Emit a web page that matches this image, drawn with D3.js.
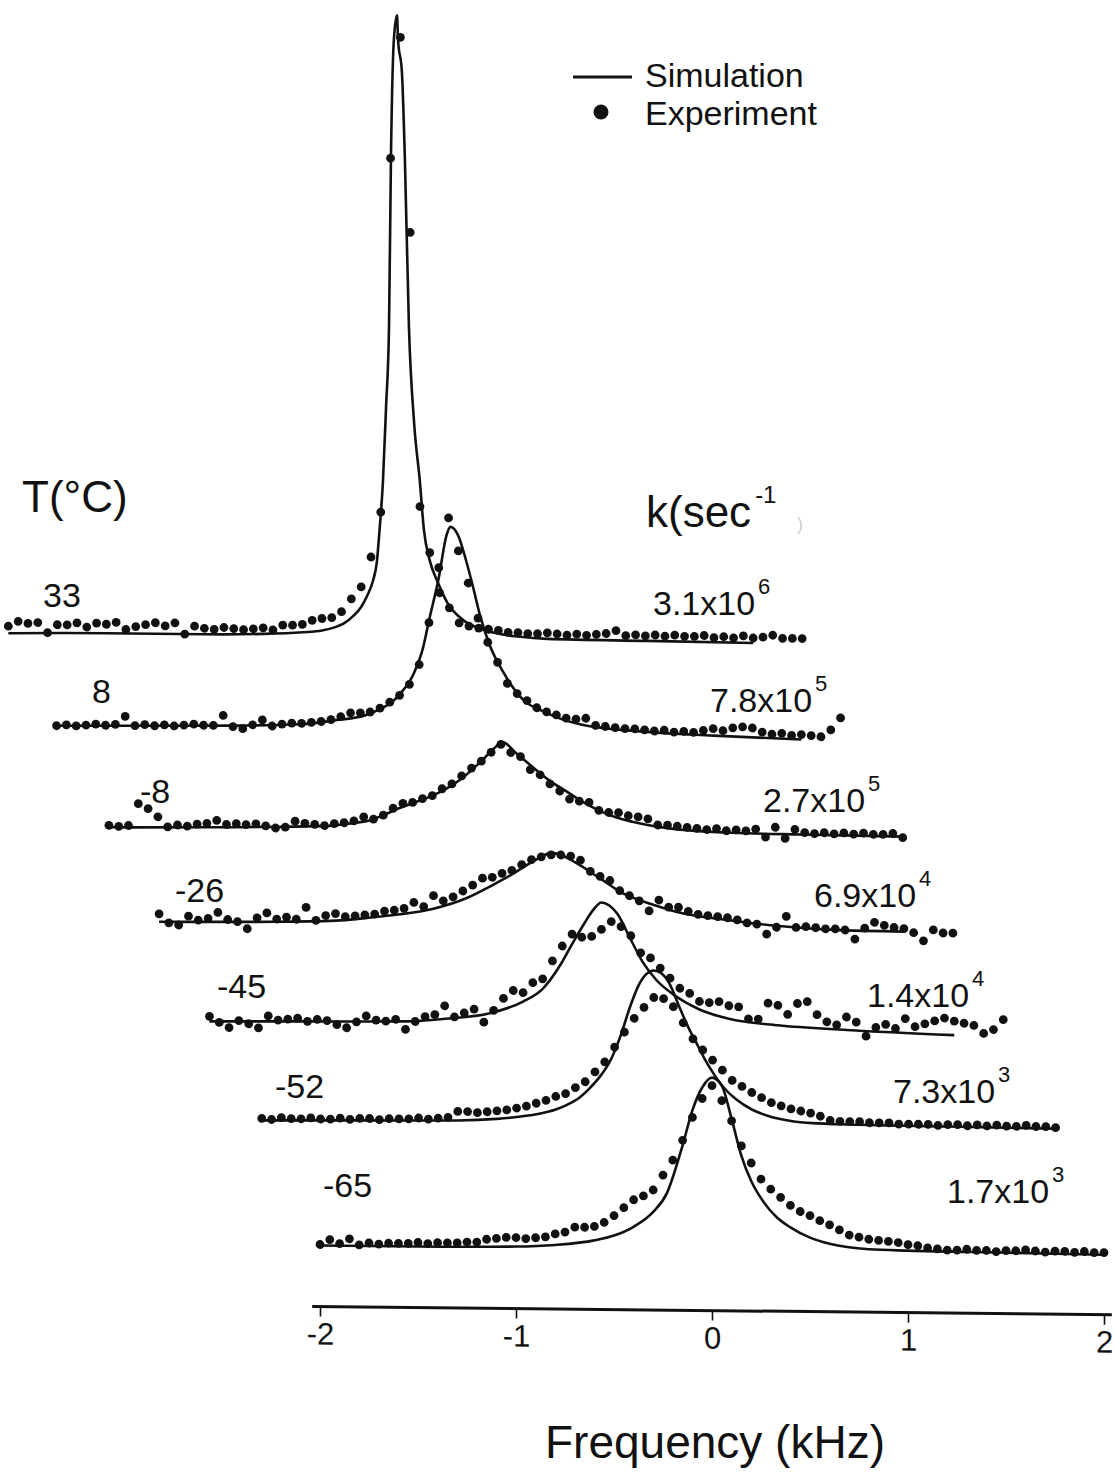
<!DOCTYPE html>
<html>
<head>
<meta charset="utf-8">
<script src="https://cdn.jsdelivr.net/npm/d3@7"></script>
<style>
  body { margin: 0; background: #fff; }
  svg { display: block; }
  text { font-family: "Liberation Sans", Arial, Helvetica, sans-serif; fill: #111; }
</style>
</head>
<body>
<svg id="chart" width="1114" height="1480"></svg>
<script>
// ---- Spectra, listed from the coldest (bottom) trace to the warmest (top) ----
const temperatures  = ["-65", "-52", "-45", "-26", "-8", "8", "33"];
const rateMantissas = ["1.7", "7.3", "1.4", "6.9", "2.7", "7.8", "3.1"];
const rateExponents = ["3", "3", "4", "4", "5", "5", "6"];
const freqTicks = [-2, -1, 0, 1, 2];

// Simulated lineshapes: [frequency (kHz), intensity]
const simM65 = [[-2.0,1],[-1.5,1],[-1.0,2],[-0.8,4],[-0.6,9],[-0.5,14],[-0.4,23],[-0.3,38],[-0.23,57],[-0.15,105],[-0.1,140],[-0.05,163],[0,173],[0.05,165],[0.1,132],[0.15,95],[0.2,70],[0.26,50],[0.33,34],[0.4,24],[0.5,14],[0.6,8],[0.8,3],[1.0,2],[1.5,1],[2.0,0]];
const simM52 = [[-2.0,0],[-1.5,1],[-1.0,2],[-0.8,4],[-0.7,6],[-0.6,9],[-0.5,14],[-0.44,19],[-0.38,26],[-0.33,35],[-0.28,46],[-0.22,64],[-0.17,88],[-0.12,118],[-0.08,138],[-0.04,150],[0,154],[0.04,151],[0.08,141],[0.13,118],[0.18,96],[0.22,81],[0.26,66],[0.3,53],[0.36,37],[0.42,26],[0.5,16],[0.58,10],[0.7,5],[0.81,3],[1.0,2],[1.5,1],[2.05,0]];
const simM45 = [[-2.0,2],[-1.5,3],[-1.0,4],[-0.8,7],[-0.57,13],[-0.4,25],[-0.3,38],[-0.21,62],[-0.15,83],[-0.09,103],[-0.04,118],[0,125],[0.04,122],[0.08,114],[0.15,88],[0.21,66],[0.28,48],[0.38,32],[0.5,19],[0.65,10],[0.9,4],[1.25,0],[1.8,-4]];
const simM26 = [[-2.0,2],[-1.5,3],[-1.1,5],[-0.9,9],[-0.77,12],[-0.6,18],[-0.43,29],[-0.3,42],[-0.2,53],[-0.12,63],[-0.05,71],[0,75],[0.05,73],[0.13,65],[0.25,50],[0.37,35],[0.51,25],[0.67,16],[0.8,12],[0.93,9],[1.18,4],[1.44,1],[1.8,0]];
const simM8  = [[-2.0,0],[-1.5,1],[-1.0,3],[-0.86,4],[-0.75,7],[-0.68,9],[-0.6,15],[-0.52,22],[-0.44,28],[-0.35,35],[-0.28,42],[-0.21,51],[-0.15,61],[-0.09,72],[-0.04,82],[0.01,89],[0.08,78],[0.16,65],[0.25,51],[0.34,40],[0.42,30],[0.51,21],[0.59,15],[0.67,11],[0.85,5],[1.18,1],[1.53,0],[2.05,-1]];
const simP8  = [[-2.0,3],[-1.5,4],[-1.1,5],[-0.76,7],[-0.59,11],[-0.42,17],[-0.35,23],[-0.29,30],[-0.25,38],[-0.18,58],[-0.13,85],[-0.1,112],[-0.05,155],[-0.01,198],[0.01,206],[0.05,197],[0.09,172],[0.13,142],[0.16,118],[0.21,88],[0.28,61],[0.36,38],[0.5,21],[0.67,10],[1.01,3],[1.35,0],[1.8,-3]];
const simP33 = [[-2.0,0],[-1.5,1],[-1.0,1],[-0.7,2],[-0.5,4],[-0.4,6],[-0.34,9],[-0.29,13],[-0.24,21],[-0.2,30],[-0.17,41],[-0.14,56],[-0.12,75],[-0.105,110],[-0.089,155],[-0.073,230],[-0.058,309],[-0.048,479],[-0.033,598],[-0.017,622],[-0.012,598],[0.008,565],[0.023,479],[0.044,309],[0.07,215],[0.1,155],[0.12,108],[0.15,77],[0.19,56],[0.24,35],[0.32,18],[0.4,10],[0.49,5],[0.6,2],[0.75,0],[1.26,-1],[1.8,-2]];

// Measured spectra: intensities sampled every 0.05 kHz starting at -2.00 kHz
const EXP_FREQ_START = -2.0;
const EXP_FREQ_STEP = 0.05;
const expM65 = [2,7,3,8,2,4,3,4,4,4, 5,4,5,5,5,6,6,9,10,11, 11,10,11,12,15,17,22,22,23,27, 34,42,50,54,60,75,90,110,133,152, 165,150,130,105,88,72,62,54,46,40, 36,31,27,22,17,15,13,12,11,10, 8,7,5,4,3,3,4,3,3,2, 3,3,4,3,2,3,3,2,3,2, 2];
const expM52 = [2,1,3,2,2,3,2,2,3,2, 3,3,2,3,3,3,4,3,4,5, 11,11,10,11,12,13,15,17,20,23, 27,30,36,42,52,62,77,92,106,117, 127,126,118,102,86,75,65,55,45,39, 33,28,23,20,17,15,13,10,6,5, 5,5,4,4,4,3,3,3,3,2, 3,3,2,3,2,3,2,2,3,2, 2,1];
const expM45 = [7,1,-4,3,0,-4,8,4,5,6, 3,5,4,0,-3,3,9,5,4,6, -4,4,9,11,20,9,13,17,4,16, 28,36,34,44,48,66,81,93,90,91, 98,106,101,92,75,70,60,50,40,35, 27,26,27,23,22,10,10,26,24,15, 26,28,15,8,5,13,8,-6,3,6, 2,12,4,7,10,13,10,8,6,-2, 2,12];
const expM26 = [10,1,-1,8,4,6,12,5,3,-4, 7,12,6,8,6,18,5,10,12,9, 10,11,12,15,16,18,24,20,31,26, 30,36,42,49,50,54,57,63,68,71, 73,73,72,68,57,52,48,38,33,28, 18,29,22,22,18,15,14,13,12,10, 7,6,-4,3,14,3,4,3,2,2, 1,-8,3,9,6,4,3,-1,-9,2, -1,-1];
const expM8  = [2,1,2,24,19,11,1,3,2,4, 5,8,4,5,4,5,3,1,2,8, 6,5,4,6,7,9,13,11,15,22, 27,28,32,35,42,47,55,63,70,79, 87,79,75,62,57,48,41,33,31,30, 22,20,20,17,16,14,8,8,7,6, 5,4,5,3,4,3,5,-3,7,-4, 5,2,1,2,1,2,1,2,1,1, 2,-2];
const expP8  = [3,4,3,4,5,4,5,13,4,5, 4,5,4,5,6,5,5,15,4,2, 6,11,5,7,8,8,9,10,12,15, 19,19,20,24,30,37,48,68,110,165, 215,182,150,115,91,71,50,40,33,26, 22,19,16,15,16,9,8,7,6,6, 5,4,5,3,4,3,5,7,5,8, 9,8,4,2,3,1,2,1,0,7, 19];
const expP33 = [7,12,10,11,1,9,9,11,7,11, 10,12,5,8,10,12,9,12,1,9, 7,6,8,7,6,7,8,6,11,11, 12,16,18,19,25,38,50,80,125,479, 600,405,131,85,45,30,15,12,10,9, 8,6,6,5,5,6,5,4,5,4, 5,6,9,4,5,4,5,4,5,4, 4,5,3,4,3,5,3,4,6,3, 3,3];

const simSeries = [simM65, simM52, simM45, simM26, simM8, simP8, simP33];
const expSeries = [expM65, expM52, expM45, expM26, expM8, expP8, expP33];

// ---- Layout ----
const W = 1114, H = 1480;
const stackShiftKHz = [0, 0.297, 0.564, 0.821, 1.077, 1.344, 1.59];   // waterfall step to the left
const stackLift     = [0, 125.5, 222, 321, 417, 515, 610];           // waterfall step upward (intensity units)
const tempLabelPos  = [[323,1197],[275,1098],[217,998],[175,902],[140,803],[92,703],[43,607]];
const rateLabelPos  = [[947,1203],[893,1103],[867,1007],[814,907],[763,812],[710,712],[653,615]];
const tiltDeg = 0.6;
const ink = "#111";

const svg = d3.select("#chart");
svg.append("rect").attr("width", W).attr("height", H).attr("fill", "#fff");

const xScale = d3.scaleLinear().domain([-2, 2]).range([320, 1104]);
const yScale = d3.scaleLinear().domain([0, 620]).range([1249, 629]);

const plot = svg.append("g")
  .attr("transform", `translate(0,${-560 * Math.tan(tiltDeg * Math.PI / 180)}) skewY(${tiltDeg})`);

const traces = temperatures.map((t, i) => ({
  temp: t, mant: rateMantissas[i], expo: rateExponents[i],
  sim: simSeries[i], obs: expSeries[i],
  shift: stackShiftKHz[i], lift: stackLift[i]
}));

traces.forEach((tr, i) => {
  const g = plot.append("g").attr("class", "trace");
  const line = d3.line()
    .x(d => xScale(d[0] - tr.shift))
    .y(d => yScale(d[1] + tr.lift))
    .curve(d3.curveMonotoneX);
  g.append("path")
    .datum(tr.sim)
    .attr("d", line)
    .attr("fill", "none")
    .attr("stroke", ink)
    .attr("stroke-width", 2.6)
    .attr("stroke-linejoin", "round");
  g.selectAll("circle")
    .data(tr.obs)
    .join("circle")
    .attr("cx", (v, j) => xScale(EXP_FREQ_START + j * EXP_FREQ_STEP - tr.shift))
    .attr("cy", v => yScale(v + tr.lift))
    .attr("r", 4.4)
    .attr("fill", ink);
});

// Frequency axis
const axisY = 1309;
const axisG = plot.append("g")
  .attr("transform", `translate(0,${axisY})`)
  .call(d3.axisBottom(xScale)
    .tickValues(freqTicks)
    .tickFormat(d => String(d))
    .tickSize(10)
    .tickSizeOuter(0)
    .tickPadding(6));
axisG.select(".domain").remove();
axisG.selectAll(".tick line").attr("stroke", ink).attr("stroke-width", 1.6);
axisG.selectAll(".tick text")
  .attr("fill", ink)
  .attr("font-size", 31)
  .style("font-size", "31px")
  .style("font-family", '"Liberation Sans", Arial, sans-serif');
axisG.append("line")
  .attr("x1", xScale(-2.04)).attr("x2", xScale(2.04))
  .attr("y1", 0).attr("y2", 0)
  .attr("stroke", ink).attr("stroke-width", 3);

// Temperature labels
traces.forEach((tr, i) => {
  svg.append("text")
    .attr("x", tempLabelPos[i][0]).attr("y", tempLabelPos[i][1])
    .style("font-size", "34px")
    .text(tr.temp);
});

// Exchange-rate labels
traces.forEach((tr, i) => {
  const t = svg.append("text")
    .attr("x", rateLabelPos[i][0]).attr("y", rateLabelPos[i][1])
    .style("font-size", "34px");
  t.append("tspan").text(tr.mant + "x10");
  t.append("tspan").attr("dx", 3).attr("dy", -21).style("font-size", "22px").text(tr.expo);
});

// Column headings
svg.append("text").attr("x", 22).attr("y", 512).style("font-size", "44px").text("T(°C)");
const kHead = svg.append("text").attr("x", 646).attr("y", 527).style("font-size", "44px");
kHead.append("tspan").text("k(sec");
kHead.append("tspan").attr("dx", 4).attr("dy", -24).style("font-size", "24px").text("-1");
svg.append("text").attr("x", 797).attr("y", 530).style("font-size", "18px")
  .attr("fill-opacity", 0.35).style("fill", "#666").text(")");

// Legend
svg.append("line").attr("x1", 573).attr("x2", 632).attr("y1", 77).attr("y2", 77)
  .attr("stroke", ink).attr("stroke-width", 3);
svg.append("text").attr("x", 645).attr("y", 87).style("font-size", "34px").text("Simulation");
svg.append("circle").attr("cx", 601).attr("cy", 112).attr("r", 7.5).attr("fill", ink);
svg.append("text").attr("x", 645).attr("y", 125).style("font-size", "34px").text("Experiment");

// Axis title
svg.append("text").attr("x", 545).attr("y", 1458).style("font-size", "46px").text("Frequency (kHz)");
</script>
</body>
</html>
